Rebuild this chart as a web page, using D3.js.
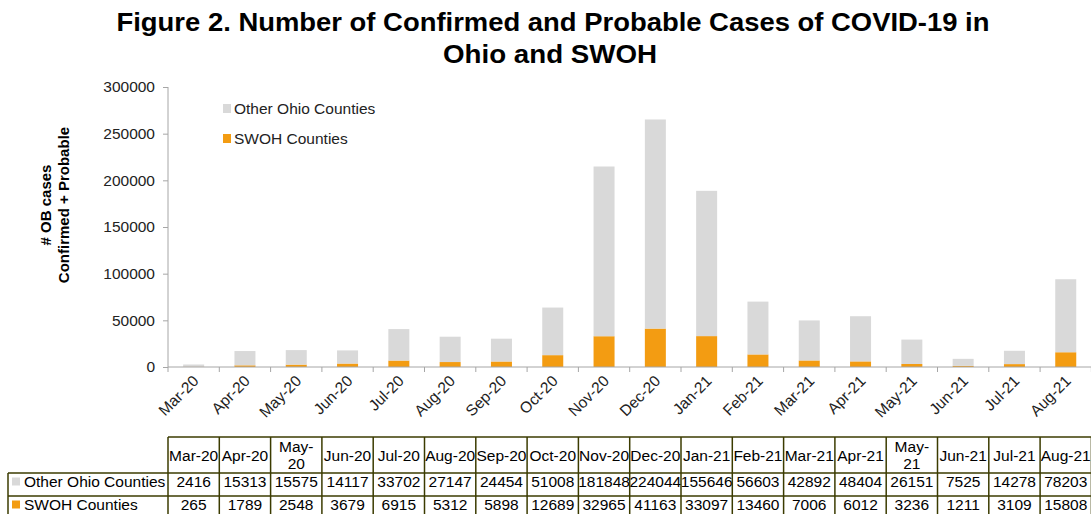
<!DOCTYPE html>
<html lang="en">
<head>
<meta charset="utf-8">
<title>Figure 2</title>
<script src="https://d3js.org/d3.v7.min.js"></script>
<style>
  body { margin: 0; background: #fff; }
  svg text { font-family: "Liberation Sans", Arial, sans-serif; }
</style>
</head>
<body>
<script>
// data
var months = ["Mar-20","Apr-20","May-20","Jun-20","Jul-20","Aug-20","Sep-20","Oct-20","Nov-20","Dec-20",
              "Jan-21","Feb-21","Mar-21","Apr-21","May-21","Jun-21","Jul-21","Aug-21"];
var otherOhio = [2416,15313,15575,14117,33702,27147,24454,51008,181848,224044,155646,56603,42892,48404,26151,7525,14278,78203];
var swoh = [265,1789,2548,3679,6915,5312,5898,12689,32965,41163,33097,13460,7006,6012,3236,1211,3109,15808];
var seriesNames = ["Other Ohio Counties", "SWOH Counties"];
var yTicks = [0,50000,100000,150000,200000,250000,300000];

var w = 1091, h = 514;
var grey = "#d9d9d9", orange = "#f39c12", border = "#3b3b00";
var fs = 15.5;

var svg = d3.select("body").append("svg").attr("width", w).attr("height", h);

// title
svg.append("text").attr("x", 553).attr("y", 31).attr("text-anchor", "middle")
  .attr("font-size", 26).attr("font-weight", "bold")
  .attr("textLength", 873).attr("lengthAdjust", "spacingAndGlyphs")
  .text("Figure 2. Number of Confirmed and Probable Cases of COVID-19 in");
svg.append("text").attr("x", 550).attr("y", 63).attr("text-anchor", "middle")
  .attr("font-size", 26).attr("font-weight", "bold")
  .attr("textLength", 214).attr("lengthAdjust", "spacingAndGlyphs")
  .text("Ohio and SWOH");

// scales
var x = d3.scaleBand().domain(months).range([168, 168 + 51.3 * 18]).paddingInner(0).paddingOuter(0);
var y = d3.scaleLinear().domain([0, 300000]).range([367, 87]);
var barW = 21;

// y axis
var yAxis = svg.append("g").attr("transform", "translate(168,0)")
  .call(d3.axisLeft(y).tickValues(yTicks).tickSize(5).tickPadding(8).tickFormat(d3.format("d")));
yAxis.select(".domain").attr("stroke", "#a6a6a6").attr("d", "M0," + y(300000) + "V" + y(0));
yAxis.selectAll(".tick line").attr("stroke", "#a6a6a6");
yAxis.selectAll(".tick text").attr("font-size", fs).attr("fill", "#222")
  .style("font-family", "'Liberation Sans', Arial, sans-serif");

// y title
var yt = svg.append("text").attr("transform", "translate(51,205) rotate(-90)")
  .attr("text-anchor", "middle").attr("font-size", 15).attr("font-weight", "bold");
yt.append("tspan").attr("x", 0).attr("dy", 0).text("# OB cases");
yt.append("tspan").attr("x", 0).attr("dy", 18).text("Confirmed + Probable");

// bars
var stackData = months.map(function(m, i) { return { m: m, swoh: swoh[i], other: otherOhio[i] }; });
var stack = d3.stack().keys(["swoh", "other"])(stackData);
var colors = { swoh: orange, other: grey };
svg.selectAll("g.layer").data(stack).enter().append("g").attr("class", "layer")
  .attr("fill", function(d) { return colors[d.key]; })
  .selectAll("rect").data(function(d) { return d; }).enter().append("rect")
  .attr("x", function(d) { return x(d.data.m) + (x.bandwidth() - barW) / 2; })
  .attr("width", barW)
  .attr("y", function(d) { return y(d[1]); })
  .attr("height", function(d) { return y(d[0]) - y(d[1]); });

// x axis
var xg = svg.append("g").attr("transform", "translate(0," + y(0) + ")");
xg.append("line").attr("x1", 168).attr("x2", w).attr("stroke", "#a6a6a6");
xg.selectAll("line.tk").data(d3.range(months.length + 1)).enter().append("line")
  .attr("class", "tk")
  .attr("x1", function(i) { return 168 + i * x.bandwidth(); })
  .attr("x2", function(i) { return 168 + i * x.bandwidth(); })
  .attr("y1", 0).attr("y2", 5).attr("stroke", "#a6a6a6");
xg.selectAll("text").data(months).enter().append("text")
  .attr("text-anchor", "end").attr("font-size", fs).attr("fill", "#222")
  .attr("transform", function(d) {
    return "translate(" + (x(d) + x.bandwidth() / 2 + 6) + ",15) rotate(-45)";
  })
  .text(function(d) { return d; });

// legend
var legend = svg.append("g");
[grey, orange].forEach(function(c, i) {
  legend.append("rect").attr("x", 223).attr("y", 104 + i * 30).attr("width", 8).attr("height", 9).attr("fill", c);
  legend.append("text").attr("x", 234).attr("y", 114 + i * 30).attr("font-size", fs).attr("fill", "#222")
    .text(seriesNames[i]);
});

// data table
var tbl = svg.append("g");
var hTop = 437, r1 = 473, r2 = 496, r3 = 519, left = 8;
var colX = d3.range(months.length + 1).map(function(i) { return 168 + i * x.bandwidth(); });

// header cells
months.forEach(function(m, i) {
  var cx = x(m) + x.bandwidth() / 2;
  var parts = m.indexOf("May") === 0 ? ["May-", m.slice(4)] : [m];
  var t = tbl.append("text").attr("text-anchor", "middle").attr("font-size", fs).attr("fill", "#000");
  if (parts.length === 1) {
    t.attr("x", cx).attr("y", 461).text(m);
  } else {
    t.append("tspan").attr("x", cx).attr("y", 452).text(parts[0]);
    t.append("tspan").attr("x", cx).attr("y", 469).text(parts[1]);
  }
});

// rows
[otherOhio, swoh].forEach(function(vals, r) {
  var yy = (r === 0 ? r1 : r2) + 13.5;
  tbl.append("rect").attr("x", 12).attr("y", yy - 9).attr("width", 8).attr("height", 8)
    .attr("fill", r === 0 ? grey : orange);
  tbl.append("text").attr("x", 24).attr("y", yy).attr("font-size", fs).attr("fill", "#000").text(seriesNames[r]);
  vals.forEach(function(v, i) {
    tbl.append("text").attr("x", x(months[i]) + x.bandwidth() / 2).attr("y", yy)
      .attr("text-anchor", "middle").attr("font-size", fs).attr("fill", "#000").text(v);
  });
});

// grid lines
var gl = tbl.append("g").attr("stroke", border).attr("stroke-width", 1.5).attr("fill", "none");
gl.append("line").attr("x1", 168).attr("x2", w).attr("y1", hTop).attr("y2", hTop);
gl.append("line").attr("x1", left).attr("x2", w).attr("y1", r1).attr("y2", r1);
gl.append("line").attr("x1", left).attr("x2", w).attr("y1", r2).attr("y2", r2);
gl.append("line").attr("x1", left).attr("x2", left).attr("y1", r1).attr("y2", r3);
colX.forEach(function(cx) {
  gl.append("line").attr("x1", cx).attr("x2", cx).attr("y1", hTop).attr("y2", r3);
});
</script>
</body>
</html>
